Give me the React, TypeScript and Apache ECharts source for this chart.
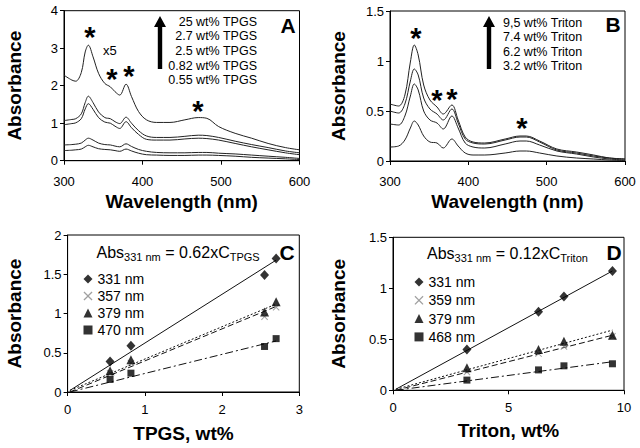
import React, { useEffect, useRef } from "react";
import * as echarts from "echarts";

const FONT = 'Arial, "Liberation Sans", sans-serif';

// Panel A: TPGS spectra
const wlA = [300, 310, 315, 322, 327, 331, 337, 344, 352, 359, 365, 371, 379, 386, 395, 405, 418, 435, 454, 471, 482, 497, 518, 539, 560, 582, 600];
const absA_25 = [2.28, 2.15, 2.12, 2.35, 2.9, 3.08, 2.77, 2.33, 2.06, 1.97, 1.84, 1.75, 2.04, 1.71, 1.31, 1.09, 1.02, 1.02, 1.09, 1.15, 1.13, 0.91, 0.73, 0.6, 0.46, 0.35, 0.29];
const absA_27 = [1.07, 1.1, 1.12, 1.25, 1.55, 1.72, 1.55, 1.3, 1.15, 1.12, 1.04, 0.99, 1.16, 1.0, 0.8, 0.66, 0.62, 0.62, 0.65, 0.68, 0.67, 0.62, 0.52, 0.43, 0.35, 0.26, 0.21];
const absA_25b = [0.96, 0.99, 1.01, 1.12, 1.38, 1.52, 1.37, 1.15, 1.03, 1.0, 0.92, 0.86, 1.04, 0.88, 0.7, 0.57, 0.55, 0.55, 0.58, 0.6, 0.59, 0.55, 0.46, 0.37, 0.29, 0.21, 0.16];
const absA_082 = [0.42, 0.43, 0.44, 0.47, 0.55, 0.6, 0.55, 0.47, 0.43, 0.42, 0.39, 0.37, 0.45, 0.38, 0.3, 0.25, 0.22, 0.21, 0.21, 0.22, 0.22, 0.2, 0.18, 0.15, 0.12, 0.09, 0.06];
const absA_055 = [0.27, 0.28, 0.29, 0.31, 0.37, 0.41, 0.37, 0.32, 0.3, 0.29, 0.27, 0.25, 0.31, 0.26, 0.2, 0.16, 0.15, 0.14, 0.14, 0.15, 0.15, 0.14, 0.12, 0.09, 0.07, 0.05, 0.03];
const legendA = ["25 wt% TPGS", "2.7 wt% TPGS", "2.5 wt% TPGS", "0.82 wt% TPGS", "0.55 wt% TPGS"];

// Panel B: Triton spectra
const wlB = [300, 311, 319, 326, 331, 336, 343, 351, 360, 368, 379, 387, 396, 406, 421, 447, 466, 474, 491, 513, 538, 560, 580, 600];
const absB_95 = [0.57, 0.55, 0.66, 0.99, 1.16, 1.06, 0.76, 0.61, 0.54, 0.47, 0.56, 0.41, 0.24, 0.19, 0.18, 0.22, 0.25, 0.25, 0.2, 0.12, 0.09, 0.06, 0.03, 0.02];
const absB_74 = [0.5, 0.48, 0.57, 0.8, 0.92, 0.86, 0.63, 0.52, 0.47, 0.41, 0.52, 0.38, 0.22, 0.18, 0.17, 0.21, 0.24, 0.24, 0.19, 0.11, 0.08, 0.05, 0.03, 0.02];
const absB_62 = [0.37, 0.36, 0.45, 0.65, 0.77, 0.71, 0.5, 0.41, 0.38, 0.32, 0.45, 0.33, 0.18, 0.14, 0.13, 0.17, 0.2, 0.2, 0.16, 0.1, 0.07, 0.04, 0.02, 0.01];
const absB_32 = [0.14, 0.15, 0.21, 0.33, 0.4, 0.36, 0.25, 0.19, 0.18, 0.13, 0.22, 0.15, 0.08, 0.06, 0.06, 0.08, 0.1, 0.1, 0.08, 0.05, 0.03, 0.02, 0.01, 0.005];
const legendB = ["9,5 wt% Triton", "7.4 wt% Triton", "6.2 wt% Triton", "3.2 wt% Triton"];

// Panel C: absorbance vs TPGS
const concC = [0.55, 0.82, 2.55, 2.7];
const c331 = [0.39, 0.59, 1.49, 1.7];
const c357 = [0.24, 0.37, 0.96, 1.08];
const c379 = [0.27, 0.41, 1.02, 1.15];
const c470 = [0.16, 0.24, 0.58, 0.68];
const fitXC = [0.03, 2.7];
const fitC331 = [0.02, 1.68];
const fitC357 = [0.02, 1.12];
const fitC379 = [0.0, 1.09];
const fitC470 = [0.0, 0.65];

// Panel D: absorbance vs Triton
const concD = [3.2, 6.3, 7.4, 9.5];
const d331 = [0.4, 0.77, 0.92, 1.17];
const d359 = [0.18, 0.36, 0.43, 0.53];
const d379 = [0.22, 0.4, 0.48, 0.54];
const d468 = [0.1, 0.2, 0.24, 0.26];
const fitXD = [0.12, 9.5];
const fitD331 = [0.01, 1.17];
const fitD359 = [0.01, 0.59];
const fitD379 = [0.0, 0.54];
const fitD468 = [0.0, 0.28];

const CROSS = "path://M0,1L1,0L5,4L9,0L10,1L6,5L10,9L9,10L5,6L1,10L0,9L4,5Z";

const zip = (xs: number[], ys: number[]) => xs.map((x, i) => [x, ys[i]]);

export default function App() {
  const ref = useRef<HTMLDivElement>(null);
  useEffect(() => {
    if (!ref.current) return;
    const chart = echarts.init(ref.current, null, { renderer: "svg" });

    const axisCommon = {
      axisLine: { show: true, onZero: false, lineStyle: { color: "#000", width: 1 } },
      axisTick: { show: true, inside: false, length: 4, lineStyle: { color: "#000" } },
      splitLine: { show: false },
      nameTextStyle: { fontFamily: FONT, fontWeight: "bold" as const, fontSize: 19, color: "#000" },
    };
    const labelStyle = (margin: number) => ({ fontFamily: FONT, fontSize: 13, color: "#000", margin });

    const spec = (name: string, xi: number, xs: number[], ys: number[]) => ({
      type: "line", name, xAxisIndex: xi, yAxisIndex: xi, data: zip(xs, ys),
      showSymbol: false, smooth: 0.35, lineStyle: { color: "#222", width: 1 }, silent: true,
    });
    const scatter = (name: string, xi: number, xs: number[], ys: number[], symbol: string, size: any, color: string) => ({
      type: "scatter", name, xAxisIndex: xi, yAxisIndex: xi, data: zip(xs, ys),
      symbol, symbolSize: size, itemStyle: { color }, z: 3,
    });
    const fit = (name: string, xi: number, xs: number[], ys: number[], type: any) => ({
      type: "line", name, xAxisIndex: xi, yAxisIndex: xi, data: zip(xs, ys),
      showSymbol: false, lineStyle: { color: "#111", width: 1, type }, silent: true,
    });

    const star = (x: number, y: number) => ({
      type: "text", x, y, style: { text: "*", font: `bold 29px ${FONT}`, fill: "#000", align: "center", verticalAlign: "middle" },
    });
    const txt = (x: number, y: number, text: string, size: number, align = "left", bold = false) => ({
      type: "text", x, y, style: { text, font: `${bold ? "bold " : ""}${size}px ${FONT}`, fill: "#000", align, verticalAlign: "middle" },
    });
    const arrow = (x: number, tip: number, bottom: number) => ({
      type: "polygon",
      shape: { points: [[x, tip], [x + 6, tip + 11], [x + 2.2, tip + 11], [x + 2.2, bottom], [x - 2.2, bottom], [x - 2.2, tip + 11], [x - 6, tip + 11]] },
      style: { fill: "#000" },
    });
    const eq = (x: number, y: number, coef: string, sub: string) => ({
      type: "text", x, y,
      style: {
        text: `{m|Abs}{s|331 nm}{m| = ${coef}xC}{s|${sub}}`,
        align: "left", verticalAlign: "middle",
        rich: {
          m: { fontFamily: FONT, fontSize: 16, fill: "#000", color: "#000" },
          s: { fontFamily: FONT, fontSize: 11, fill: "#000", color: "#000", padding: [9, 0, 0, 0] },
        },
      },
    });

    const legendCommon = {
      orient: "vertical", itemWidth: 9, itemHeight: 9,
      textStyle: { fontFamily: FONT, fontSize: 14, color: "#000", lineHeight: 14 },
      selectedMode: false,
    };

    const option: any = {
      animation: false,
      backgroundColor: "#fff",
      grid: [
        { left: 64, top: 10.7, width: 235.5, height: 150, show: true, borderColor: "#000", borderWidth: 1 },
        { left: 390, top: 11, width: 235, height: 150, show: true, borderColor: "#000", borderWidth: 1 },
        { left: 67.6, top: 235, width: 231.7, height: 157, show: true, borderColor: "#000", borderWidth: 1 },
        { left: 393, top: 237.3, width: 231, height: 153, show: true, borderColor: "#000", borderWidth: 1 },
      ],
      xAxis: [
        { ...axisCommon, gridIndex: 0, type: "value", min: 300, max: 600, interval: 100, name: "Wavelength (nm)", nameLocation: "middle", nameGap: 31, axisLabel: labelStyle(14) },
        { ...axisCommon, gridIndex: 1, type: "value", min: 300, max: 600, interval: 100, name: "Wavelength (nm)", nameLocation: "middle", nameGap: 31, axisLabel: labelStyle(14) },
        { ...axisCommon, gridIndex: 2, type: "value", min: 0, max: 3, interval: 1, name: "TPGS, wt%", nameLocation: "middle", nameGap: 32, axisLabel: labelStyle(11) },
        { ...axisCommon, gridIndex: 3, type: "value", min: 0, max: 10, interval: 5, name: "Triton, wt%", nameLocation: "middle", nameGap: 31, axisLabel: labelStyle(11) },
      ],
      yAxis: [
        { ...axisCommon, gridIndex: 0, type: "value", min: 0, max: 4, interval: 1, name: "Absorbance", nameLocation: "middle", nameGap: 40, axisLabel: labelStyle(6) },
        { ...axisCommon, gridIndex: 1, type: "value", min: 0, max: 1.5, interval: 0.5, name: "Absorbance", nameLocation: "middle", nameGap: 42, axisLabel: labelStyle(6) },
        { ...axisCommon, gridIndex: 2, type: "value", min: 0, max: 2, interval: 0.5, name: "Absorbance", nameLocation: "middle", nameGap: 44, axisLabel: labelStyle(6) },
        { ...axisCommon, gridIndex: 3, type: "value", min: 0, max: 1.5, interval: 0.5, name: "Absorbance", nameLocation: "middle", nameGap: 45, axisLabel: labelStyle(6) },
      ],
      legend: [
        { ...legendCommon, left: 78.5, top: 267, itemGap: 3, data: ["331 nm", "357 nm", "379 nm", "470 nm"] },
        { ...legendCommon, left: 409.5, top: 270, itemGap: 4.3, data: ["331 nm", "359 nm", "379 nm", "468 nm"] },
      ],
      series: [
        spec(legendA[0], 0, wlA, absA_25),
        spec(legendA[1], 0, wlA, absA_27),
        spec(legendA[2], 0, wlA, absA_25b),
        spec(legendA[3], 0, wlA, absA_082),
        spec(legendA[4], 0, wlA, absA_055),
        spec(legendB[0], 1, wlB, absB_95),
        spec(legendB[1], 1, wlB, absB_74),
        spec(legendB[2], 1, wlB, absB_62),
        spec(legendB[3], 1, wlB, absB_32),
        fit("fit C 331", 2, fitXC, fitC331, "solid"),
        fit("fit C 357", 2, fitXC, fitC357, [2, 2]),
        fit("fit C 379", 2, fitXC, fitC379, [6, 3]),
        fit("fit C 470", 2, fitXC, fitC470, [8, 3, 2, 3]),
        scatter("331 nm", 2, concC, c331, "diamond", [9, 10], "#000"),
        scatter("357 nm", 2, concC, c357, CROSS, 7, "#888"),
        scatter("379 nm", 2, concC, c379, "triangle", 9, "#000"),
        scatter("470 nm", 2, concC, c470, "rect", 7, "#000"),
        fit("fit D 331", 3, fitXD, fitD331, "solid"),
        fit("fit D 359", 3, fitXD, fitD359, [2, 2]),
        fit("fit D 379", 3, fitXD, fitD379, [6, 3]),
        fit("fit D 468", 3, fitXD, fitD468, [8, 3, 2, 3]),
        scatter("331 nm", 3, concD, d331, "diamond", [9, 10], "#000"),
        scatter("359 nm", 3, concD, d359, CROSS, 7, "#888"),
        scatter("379 nm", 3, concD, d379, "triangle", 9, "#000"),
        scatter("468 nm", 3, concD, d468, "rect", 7, "#000"),
      ],
      graphic: [
        txt(288, 25, "A", 21, "center", true),
        txt(613, 24, "B", 21, "center", true),
        txt(287, 252, "C", 21, "center", true),
        txt(614, 252, "D", 21, "center", true),
        ...legendA.map((t, i) => txt(257, 21.7 + i * 14.6, t, 12.5, "right")),
        ...legendB.map((t, i) => txt(503, 22.7 + i * 14.5, t, 12.5, "left")),
        arrow(160, 16, 69),
        arrow(489, 16, 69),
        star(90, 36.5), star(112, 78.5), star(129, 75.5), star(198, 110.5),
        txt(103, 50, "x5", 13, "left"),
        star(416, 37.5), star(437, 99.5), star(452, 98.5), star(522, 127.5),
        eq(96.5, 252, "0.62", "TPGS"),
        eq(427, 253, "0.12", "Triton"),
      ],
    };
    chart.setOption(option);
    return () => chart.dispose();
  }, []);
  return <div ref={ref} style={{ position: "fixed", left: 0, top: 0, width: 640, height: 448, background: "#fff" }} />;
}
